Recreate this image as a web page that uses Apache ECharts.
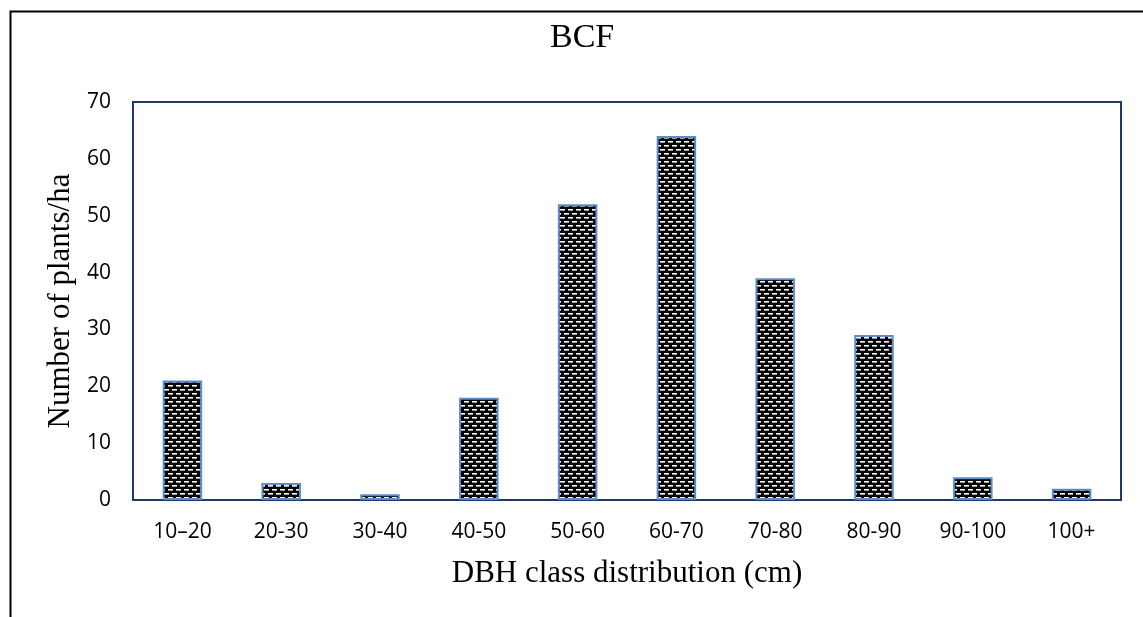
<!DOCTYPE html>
<html>
<head>
<meta charset="utf-8">
<script src="https://cdn.jsdelivr.net/npm/echarts@6/dist/echarts.min.js"></script>
<style>
html,body{margin:0;padding:0;background:#fff;}
#chart{width:1143px;height:617px;}
</style>
</head>
<body>
<div id="chart"></div>
<script>
var categories = ['10–20','20-30','30-40','40-50','50-60','60-70','70-80','80-90','90-100','100+'];
var plantsPerHa = [21, 3, 1, 18, 52, 64, 39, 29, 4, 2];
var yTicks = [0, 10, 20, 30, 40, 50, 60, 70];

function makePattern() {
  var c = document.createElement('canvas');
  c.width = 8; c.height = 8;
  var ctx = c.getContext('2d');
  ctx.fillStyle = '#000';
  ctx.fillRect(0, 0, 8, 8);
  ctx.fillStyle = '#fff';
  ctx.fillRect(0, 1, 5, 1);
  ctx.fillRect(4, 5, 4, 1);
  ctx.fillRect(0, 5, 1, 1);
  ctx.fillStyle = '#9a9a9a';
  ctx.fillRect(0, 2, 5, 1);
  ctx.fillRect(4, 6, 4, 1);
  ctx.fillRect(0, 6, 1, 1);
  return c;
}

var chart = echarts.init(document.getElementById('chart'), null, {renderer: 'canvas'});
var serif = '"Liberation Serif", "Times New Roman", serif';
var sans = '"Open Sans", "Noto Sans", sans-serif';

chart.setOption({
  animation: false,
  backgroundColor: '#fff',
  title: {
    text: 'BCF',
    left: 545,
    top: 16,
    textStyle: {fontFamily: serif, fontSize: 34, fontWeight: 'normal', color: '#000'}
  },
  graphic: [{
    type: 'rect',
    left: 8, top: 9,
    shape: {width: 1200, height: 700},
    style: {fill: 'none', stroke: '#000', lineWidth: 2},
    silent: true
  }],
  grid: {
    left: 133, top: 102, right: 22, bottom: 117,
    show: true, borderColor: '#203864', borderWidth: 2, backgroundColor: 'transparent'
  },
  xAxis: {
    type: 'category',
    data: categories,
    name: 'DBH class distribution (cm)',
    nameLocation: 'middle',
    nameGap: 58,
    nameTextStyle: {fontFamily: serif, fontSize: 31, color: '#000'},
    axisLine: {show: false},
    axisTick: {show: false},
    axisLabel: {fontFamily: sans, fontSize: 21, color: '#000', margin: 22}
  },
  yAxis: {
    type: 'value',
    min: yTicks[0], max: yTicks[yTicks.length - 1], interval: 10,
    name: 'Number of plants/ha',
    nameLocation: 'middle',
    nameGap: 56,
    nameTextStyle: {fontFamily: serif, fontSize: 31, color: '#000'},
    axisLine: {show: false},
    axisTick: {show: false},
    splitLine: {show: false},
    axisLabel: {fontFamily: sans, fontSize: 21, color: '#000', margin: 22}
  },
  series: [{
    type: 'bar',
    data: plantsPerHa,
    barWidth: '40%',
    itemStyle: {
      color: {image: makePattern(), repeat: 'repeat'},
      borderColor: '#5b8ccc',
      borderWidth: 2
    }
  }]
});
</script>
</body>
</html>
